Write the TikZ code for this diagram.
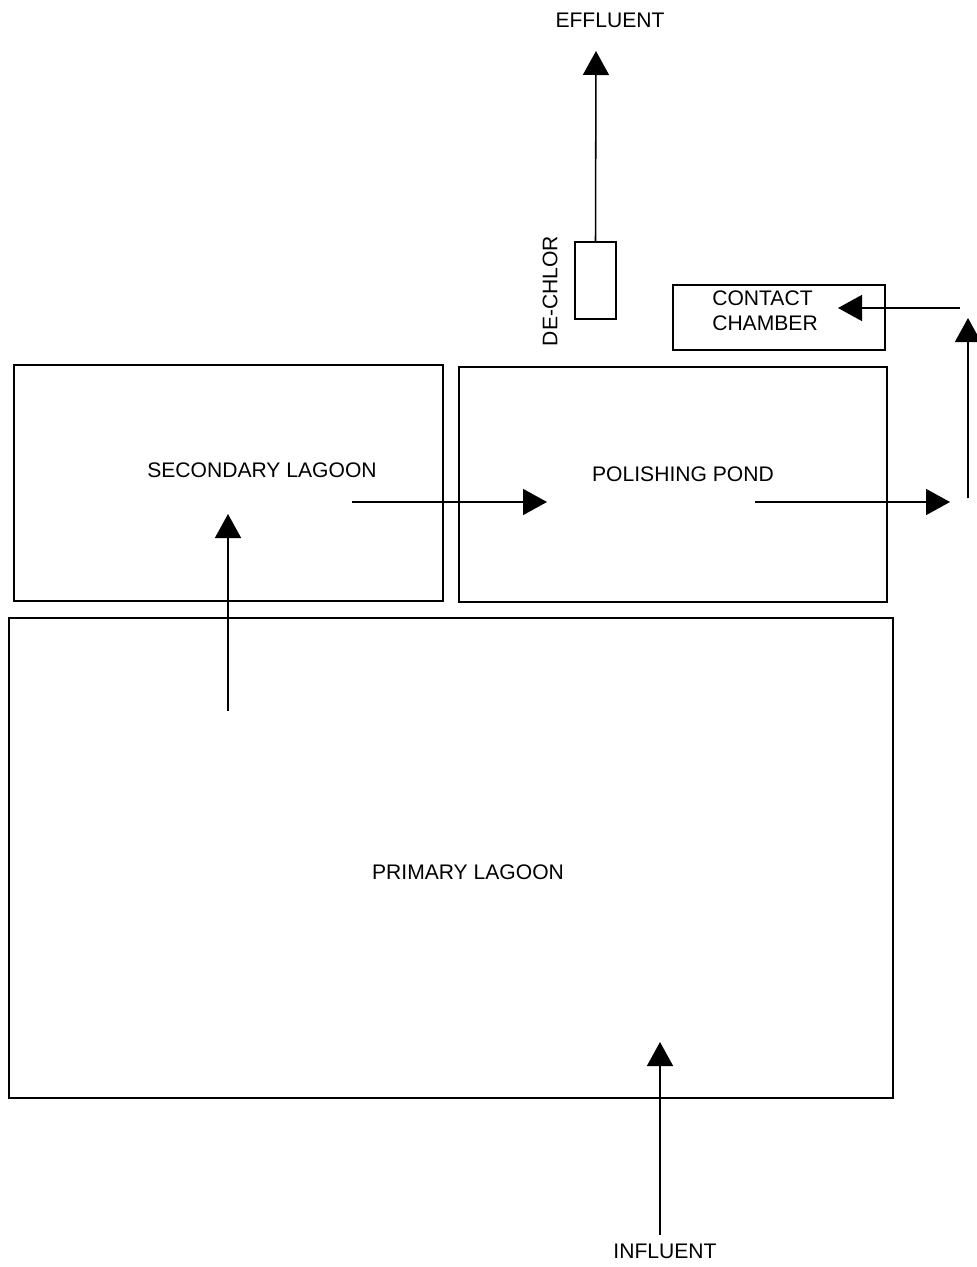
\documentclass[tikz,border=0pt]{standalone}
\usepackage{fontspec}
\setmainfont{Liberation Sans}
\usetikzlibrary{arrows.meta,positioning}
\tikzset{
  basin/.style={draw,line width=1.1pt,inner sep=0pt},
  lab/.style={font=\fontsize{15}{18}\selectfont,inner sep=0pt},
  flow/.style={-{Triangle[length=0.6cm,width=0.65cm]},line width=1.1pt}
}

\begin{document}
\begin{tikzpicture}[x=0.025cm,y=-0.025cm]
  \useasboundingbox (0,0) rectangle (977,1267);
  % basins
  \node[basin,minimum width=10.725cm,minimum height=5.9cm] (sec) at (228.5,483) {};
  \node[basin,minimum width=10.7cm,minimum height=5.875cm] (pol) at (673,484.5) {};
  \node[basin,minimum width=22.1cm,minimum height=12cm] (pri) at (451,858) {};
  \node[basin,minimum width=5.3cm,minimum height=1.625cm] (cc) at (779,317.5) {};
  \node[basin,minimum width=1.025cm,minimum height=1.925cm] (dc) at (595.5,280.5) {};
  % texts
  \node[lab] (seclab) at (262,470) {SECONDARY LAGOON};
  \node[lab] (pollab) at (683,474) {POLISHING POND};
  \node[lab] (prilab) at (468,872) {PRIMARY LAGOON};
  \node[lab,align=left] (cclab) at (765,311) {CONTACT\\CHAMBER};
  \node[lab,rotate=90] (dclab) at (550,291) {DE-CHLOR};
  \node[lab] (eff) at (610,20) {EFFLUENT};
  \node[lab] (inf) at (665,1251) {INFLUENT};
  % arrow ends
  \coordinate (a1) at (660,1235);  \coordinate (b1) at (660,1042);
  \coordinate (a2) at (228,711);   \coordinate (b2) at (228,514);
  \coordinate (a3) at (352,502);   \coordinate (b3) at (547,502);
  \coordinate (a4) at (755,502);   \coordinate (b4) at (950,502);
  \coordinate (a5) at (968,498);   \coordinate (b5) at (968,318);
  \coordinate (a6) at (960,308);   \coordinate (b6) at (838,308);
  \coordinate (b7) at (596,51);
  % flows
  \draw[flow] (a1)--(b1);
  \draw[flow] (a2)--(b2);
  \draw[flow] (a3)--(b3);
  \draw[flow] (a4)--(b4);
  \draw[flow] (a5)--(b5);
  \draw[flow] (a6)--(b6);
  \draw[flow] (dc.north)--(b7);
\end{tikzpicture}
\end{document}
